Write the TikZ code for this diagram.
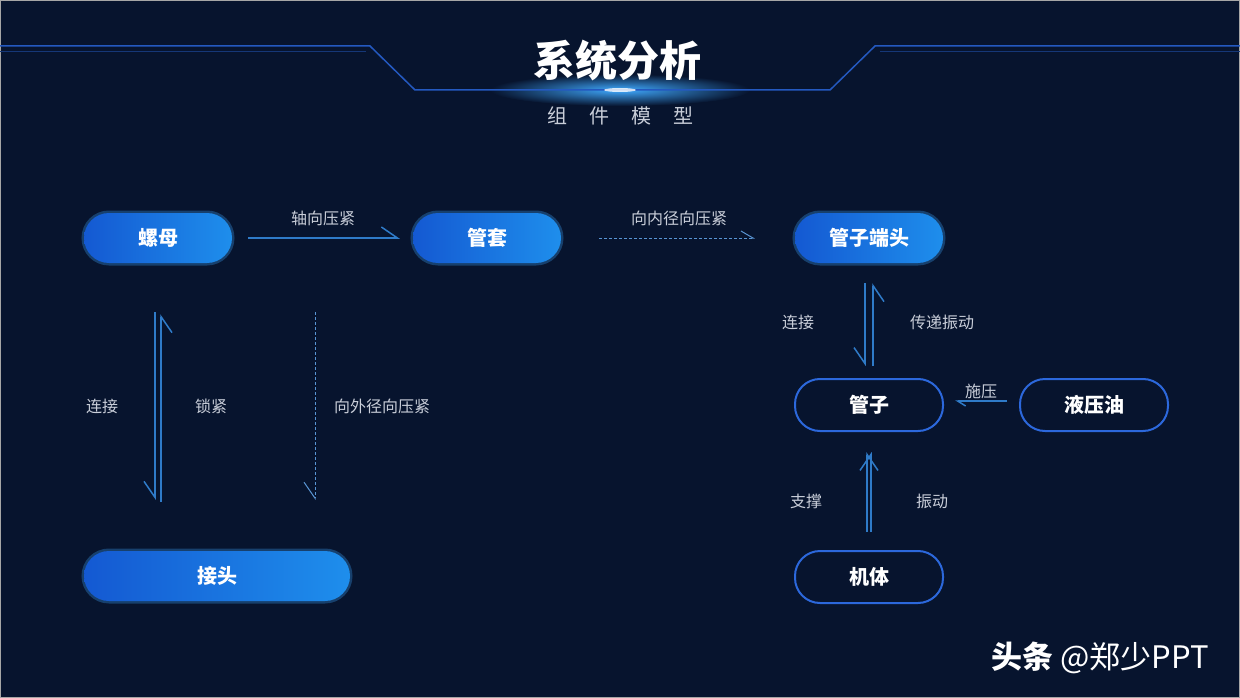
\documentclass[tikz,border=0pt]{standalone}
\usepackage{fontspec}
\newfontfamily\cjk{Noto Sans CJK SC}
\usetikzlibrary{positioning,arrows.meta}
\definecolor{bg}{HTML}{07142E}
\definecolor{pillA}{HTML}{1459D2}
\definecolor{pillB}{HTML}{1E8EEC}
\definecolor{ringc}{HTML}{2C68DC}
\definecolor{linec}{HTML}{2F7BC8}
\definecolor{lblc}{HTML}{C9CED9}
\definecolor{hdrc}{HTML}{2459C0}
\definecolor{glowc}{HTML}{3FA9FF}

\begin{document}
\begin{tikzpicture}[x=1pt,y=-1pt,
pill/.style={rounded corners=25pt,minimum width=148pt,minimum height=50pt,
  left color=pillA,right color=pillB,text=white,
  preaction={draw=glowc,line width=5pt,opacity=.3},
  font=\cjk\bfseries\fontsize{20}{24}\selectfont},
ring/.style={draw=ringc,line width=2pt,fill=bg,rounded corners=25pt,
  minimum width=148pt,minimum height=52pt,text=white,
  font=\cjk\bfseries\fontsize{20}{24}\selectfont},
link/.style={draw=linec,line width=1.5pt,
  -{Straight Barb[harpoon,swap,length=16pt,width=22pt]}},
dlink/.style={link,dashed,dash pattern=on 3pt off 2pt,line width=1pt,draw=linec!80!white},
lbl/.style={text=lblc,font=\cjk\fontsize{16}{19}\selectfont}]
\useasboundingbox (0,0) rectangle (1240,698);
\fill[bg] (0,0) rectangle (1240,698);
\draw[gray!70,line width=1pt] (0.5,0.5) rectangle (1239.5,697.5);

% header
\shade[inner color=glowc,outer color=bg] (620,90) ellipse (130pt and 16pt);
\draw[hdrc,line width=1.5pt] (0,46) -- (370,46) -- (415,90) -- (830,90) -- (875,46) -- (1240,46);
\draw[hdrc!50!bg,line width=1pt] (0,52) -- (366,52);
\draw[hdrc!50!bg,line width=1pt] (880,52) -- (1240,52);
\fill[white,opacity=.8] (620,90) ellipse (16pt and 2pt);
\node (title) at (617,60) [text=white,font=\cjk\bfseries\fontsize{42}{46}\selectfont] {系统分析};
\node (subtitle) at (620,116) [text=lblc,font=\cjk\fontsize{20}{24}\selectfont] {组\hspace{22pt}件\hspace{22pt}模\hspace{22pt}型};

% left group
\node (luomu) at (158,238) [pill] {螺母};
\node (guantao) at (487,238) [pill] {管套};
\node (jietou) at (217,576) [pill,minimum width=266pt] {接头};

% right group
\node (duantou) at (869,238) [pill] {管子端头};
\node (guanzi) at (869,405) [ring] {管子};
\node (youya) at (1094,405) [ring] {液压油};
\node (jiti) at (869,577) [ring] {机体};

% connectors
\draw[link,shorten <=16pt,shorten >=13pt,-{Straight Barb[harpoon,length=16pt,width=22pt]}] (luomu) -- (guantao);
\draw[dlink,shorten <=38pt,shorten >=40pt,-{Straight Barb[harpoon,length=12pt,width=14pt]}] (guantao) -- (duantou);
\draw[link,shorten <=49pt,shorten >=51pt] ([xshift=-3pt]luomu.south) -- ([xshift=-3pt]luomu.south |- jietou.north);
\draw[link,shorten <=49pt,shorten >=51pt] ([xshift=3pt]luomu.south |- jietou.north) -- ([xshift=3pt]luomu.south);
\draw[dlink,shorten <=49pt,shorten >=51pt] ([xshift=98pt]jietou.north |- luomu.south) -- ([xshift=98pt]jietou.north);

\draw[link,shorten <=20pt,shorten >=12pt] ([xshift=-4pt]duantou.south) -- ([xshift=-4pt]guanzi.north);
\draw[link,shorten <=12pt,shorten >=20pt] ([xshift=4pt]guanzi.north) -- ([xshift=4pt]duantou.south);
\draw[link,shorten <=18pt,shorten >=20pt] ([xshift=-2pt]jiti.north) -- ([xshift=-2pt]guanzi.south);
\draw[link,shorten <=18pt,shorten >=20pt,-{Straight Barb[harpoon,length=16pt,width=22pt]}] ([xshift=2pt]jiti.north) -- ([xshift=2pt]guanzi.south);
\draw[link,shorten <=12pt,shorten >=11pt,-{Straight Barb[harpoon,length=8pt,width=10pt]}] ([yshift=4pt]youya.west) -- ([yshift=4pt]guanzi.east);

% labels
\node (l1) at (323,218) [lbl] {轴向压紧};
\node (l2) at (679,218) [lbl] {向内径向压紧};
\node (l3) at (102,406) [lbl] {连接};
\node (l4) at (211,406) [lbl] {锁紧};
\node (l5) at (382,406) [lbl] {向外径向压紧};
\node (l6) at (798,322) [lbl] {连接};
\node (l7) at (942,322) [lbl] {传递振动};
\node (l8) at (981,391) [lbl] {施压};
\node (l9) at (806,501) [lbl] {支撑};
\node (l10) at (932,501) [lbl] {振动};

% watermark
\node (mark) at (1100,658) [text=white,font=\cjk\fontsize{31}{35}\selectfont] {{\bfseries 头条} @郑少PPT};
\end{tikzpicture}
\end{document}
